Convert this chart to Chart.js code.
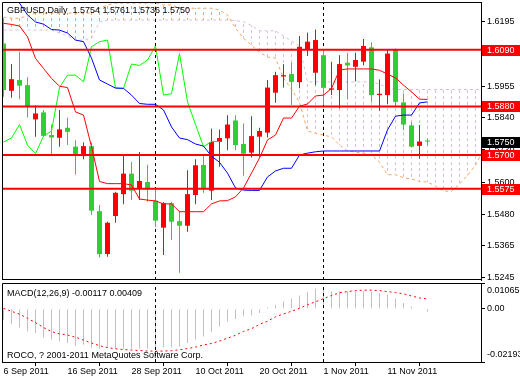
<!DOCTYPE html>
<html>
<head>
<meta charset="utf-8">
<title>GBPUSD Daily</title>
<script src="https://cdn.jsdelivr.net/npm/chart.js@4.4.1/dist/chart.umd.min.js"></script>
<style>
html,body{margin:0;padding:0;background:#ffffff;}
#wrap{position:relative;width:520px;height:380px;overflow:hidden;background:#ffffff;}
#wrap canvas{position:absolute;left:0;}
.lbl{position:absolute;white-space:pre;font-family:"Liberation Sans",Arial,sans-serif;font-size:9px;line-height:11px;color:#000;z-index:5;}
</style>
</head>
<body>
<div id="wrap">
  <canvas id="main" width="520" height="284" style="top:0px"></canvas>
  <canvas id="macd" width="520" height="100" style="top:280px"></canvas>
  <div class="lbl" style="left:7px;top:5px">GBPUSD,Daily  1.5754 1.5761 1.5736 1.5750</div>
  <div class="lbl" style="left:7px;top:288px">MACD(12,26,9) -0.00117 0.00409</div>
  <div class="lbl" style="left:7px;top:350px">ROCO, ? 2001-2011 MetaQuotes Software Corp.</div>
</div>
<script>
// ---- data (daily bars, 6 Sep 2011 .. 18 Nov 2011) ----
const open = [1.6113,1.5938,1.5978,1.5959,1.5832,1.5858,1.5774,1.5764,1.5801,1.5731,
              1.5696,1.5733,1.5492,1.5333,1.5474,1.5555,1.5631,1.5576,1.5600,1.5531,
              1.5431,1.5521,1.5455,1.5438,1.5552,1.5663,1.5568,1.5749,1.5762,1.5828,
              1.5741,1.5709,1.5768,1.5783,1.5931,1.5991,1.6000,1.5970,1.6089,1.6005,
              1.6070,1.5942,1.5941,1.6042,1.6027,1.6046,1.6099,1.5922,1.5922,1.6089,
              1.5895,1.5810,1.5734,1.5754];
const high = [1.6206,1.6037,1.6083,1.5988,1.5884,1.5867,1.5813,1.5867,1.5838,1.5755,
              1.5746,1.5746,1.5515,1.5453,1.5564,1.5702,1.5674,1.5711,1.5664,1.5578,
              1.5525,1.5527,1.5494,1.5644,1.5684,1.5701,1.5797,1.5795,1.5847,1.5847,
              1.5817,1.5844,1.5801,1.5978,1.6009,1.6036,1.6042,1.6141,1.6153,1.6165,
              1.6089,1.6046,1.6070,1.6079,1.6079,1.6130,1.6118,1.5980,1.6089,1.6095,
              1.5928,1.5823,1.5811,1.5761];
const low  = [1.5916,1.5912,1.5907,1.5839,1.5768,1.5768,1.5700,1.5731,1.5737,1.5628,
              1.5684,1.5478,1.5320,1.5323,1.5449,1.5518,1.5533,1.5533,1.5527,1.5434,
              1.5330,1.5385,1.5264,1.5416,1.5518,1.5560,1.5533,1.5657,1.5718,1.5718,
              1.5623,1.5691,1.5694,1.5765,1.5894,1.5950,1.5885,1.5947,1.6067,1.5959,
              1.5885,1.5922,1.5873,1.5906,1.5973,1.6033,1.5897,1.5864,1.5889,1.5879,
              1.5792,1.5728,1.5686,1.5736];
const close = [1.5941,1.5981,1.5957,1.5879,1.5854,1.5771,1.5765,1.5795,1.5786,1.5697,
               1.5733,1.5494,1.5333,1.5449,1.5560,1.5631,1.5568,1.5604,1.5573,1.5457,
               1.5521,1.5453,1.5438,1.5555,1.5662,1.5573,1.5748,1.5763,1.5813,1.5737,
               1.5705,1.5770,1.5789,1.5950,1.5996,1.5996,1.5971,1.6101,1.6120,1.6126,
               1.5949,1.5947,1.6037,1.6032,1.6052,1.6104,1.5922,1.5927,1.6076,1.5897,
               1.5813,1.5731,1.5750,1.5750];
const tenkan = [1.6188,1.6184,1.6178,1.6138,1.6058,1.6021,1.5984,1.5955,1.5950,1.5860,
                1.5848,1.5731,1.5602,1.5594,1.5594,1.5594,1.5589,1.5537,1.5533,1.5530,
                1.5519,1.5519,1.5490,1.5490,1.5490,1.5490,1.5519,1.5530,1.5531,1.5545,
                1.5578,1.5633,1.5689,1.5756,1.5774,1.5837,1.5837,1.5881,1.5889,1.5919,
                1.5922,1.5947,1.6015,1.6019,1.6019,1.6019,1.6019,1.6014,1.6000,1.5986,
                1.5959,1.5934,1.5907,1.5906];
const kijun = [1.6290,1.6280,1.6263,1.6219,1.6193,1.6185,1.6165,1.6163,1.6152,1.6126,
               1.6120,1.6059,1.5978,1.5963,1.5948,1.5947,1.5922,1.5891,1.5888,1.5888,
               1.5867,1.5804,1.5763,1.5757,1.5741,1.5733,1.5696,1.5673,1.5633,1.5578,
               1.5570,1.5569,1.5569,1.5619,1.5641,1.5651,1.5651,1.5700,1.5707,1.5712,
               1.5715,1.5715,1.5715,1.5715,1.5715,1.5715,1.5715,1.5715,1.5793,1.5844,
               1.5848,1.5848,1.5893,1.5897];
const chikou = [1.5748,1.5763,1.5813,1.5737,1.5705,1.5770,1.5789,1.5950,1.5996,1.5996,
                1.5971,1.6101,1.6120,1.6126,1.5949,1.5947,1.6037,1.6032,1.6052,1.6104,
                1.5922,1.5927,1.6076,1.5897,1.5813,1.5731,1.5750,1.5750];
const spanA = [1.6211,1.6207,1.6207,1.6215,1.6226,1.6226,1.6226,1.6226,1.6226,1.6226,
               1.6226,1.6226,1.6244,1.6256,1.6263,1.6263,1.6263,1.6263,1.6263,1.6263,
               1.6256,1.6256,1.6244,1.6244,1.6244,1.6244,1.6244,1.6237,1.6219,1.6170,
               1.6133,1.6107,1.6081,1.6063,1.6059,1.5985,1.5944,1.5896,1.5789,1.5781,
               1.5774,1.5767,1.5737,1.5715,1.5711,1.5707,1.5700,1.5674,1.5627,1.5627,
               1.5616,1.5611,1.5602,1.5600,1.5585,1.5567,1.5565,1.5593,1.5624,1.5663,
               1.5719];
const spanB = [1.6163,1.6163,1.6163,1.6163,1.6163,1.6163,1.6163,1.6152,1.6141,1.6126,
               1.6126,1.6133,1.6193,1.6200,1.6200,1.6200,1.6200,1.6200,1.6200,1.6200,
               1.6200,1.6200,1.6200,1.6200,1.6200,1.6200,1.6200,1.6200,1.6200,1.6198,
               1.6194,1.6180,1.6161,1.6160,1.6160,1.6141,1.6122,1.6104,1.5971,1.5971,
               1.5971,1.5971,1.5971,1.5971,1.5971,1.5971,1.5971,1.5963,1.5948,1.5943,
               1.5943,1.5943,1.5943,1.5943,1.5943,1.5943,1.5943,1.5943,1.5943,1.5943,
               1.5943];
const macdMain = [-0.0045,-0.0063,-0.0077,-0.0093,-0.0100,-0.0118,-0.0127,-0.0134,-0.0141,-0.0152,
                  -0.0148,-0.0162,-0.0165,-0.0162,-0.0165,-0.0165,-0.0165,-0.0165,-0.0165,-0.0162,
                  -0.0159,-0.0159,-0.0155,-0.0141,-0.0127,-0.0114,-0.0096,-0.0073,-0.0052,-0.0042,
                  -0.0031,-0.0027,-0.0017,0.0007,0.0017,0.0031,0.0042,0.0055,0.0069,0.0083,
                  0.0086,0.0072,0.0072,0.0072,0.0072,0.0072,0.0069,0.0065,0.0058,0.0042,
                  0.0024,0.0010,0.0002,-0.00117];
const macdSignal = [0.0002,-0.0010,-0.0022,-0.0039,-0.0057,-0.0077,-0.0094,-0.0103,-0.0108,-0.0117,
                    -0.0129,-0.0141,-0.0152,-0.0160,-0.0165,-0.0168,-0.0170,-0.0172,-0.0174,-0.0175,
                    -0.0174,-0.0173,-0.0169,-0.0164,-0.0158,-0.0149,-0.0143,-0.0133,-0.0121,-0.0109,
                    -0.0093,-0.0082,-0.0064,-0.0051,-0.0033,-0.0021,-0.0010,0.0002,0.0017,0.0029,
                    0.0042,0.0055,0.0066,0.0071,0.0075,0.0077,0.0077,0.0075,0.0071,0.0067,
                    0.0062,0.0053,0.0045,0.00409];
const dateLabels = ['6 Sep 2011','16 Sep 2011','28 Sep 2011','10 Oct 2011','20 Oct 2011','1 Nov 2011','11 Nov 2011'];
const dateBars = [0,8,16,24,32,40,48];
const priceTicks = [1.5245,1.5365,1.5480,1.5600,1.5720,1.5840,1.5955,1.6075,1.6195];
const levels = [1.6090,1.5880,1.5700,1.5575];
const lastClose = 1.5750;
const separators = [19,40];
const macdTicks = [-0.02193,0,0.01065];

// ---- view settings ----
const X_MIN = -0.1875, X_MAX = 59.6875;
const Y_MIN = 1.5237, Y_MAX = 1.6267;
const M_MIN = -0.02193, M_MAX = 0.01065;
const FONT = '"Liberation Sans", Arial, sans-serif';
const RED = '#ff0000', GREEN = '#32cd32';

Chart.defaults.font.family = FONT;
Chart.defaults.font.size = 9;
Chart.defaults.color = '#000';

const candleColor = open.map((o, i) => close[i] >= o ? RED : GREEN);
const idx = close.map((_, i) => i);
const cloudIdx = spanA.map((_, i) => i);

function hatchPattern(color) {
  const c = document.createElement('canvas');
  c.width = 1; c.height = 6;
  const g = c.getContext('2d');
  g.fillStyle = color; g.fillRect(0, 0, 1, 3);
  return g.createPattern(c, 'repeat');
}
const hatchUp = hatchPattern('#f4a460');
const hatchDn = hatchPattern('#d8bfd8');

const frame = {
  id: 'frame',
  afterDraw(chart, args, opts) {
    const a = chart.chartArea, ctx = chart.ctx;
    ctx.save();
    ctx.strokeStyle = '#000'; ctx.lineWidth = 1;
    ctx.beginPath();
    ctx.moveTo(a.right, a.top + 0.5);
    ctx.lineTo(a.left + 0.5, a.top + 0.5);
    ctx.lineTo(a.left + 0.5, a.bottom);
    if (opts.bottom) { ctx.moveTo(a.left, a.bottom - 0.5); ctx.lineTo(a.right, a.bottom - 0.5); }
    ctx.stroke();
    ctx.restore();
  }
};

const priceBoxes = {
  id: 'priceBoxes',
  afterDraw(chart) {
    const ctx = chart.ctx, ys = chart.scales.y, a = chart.chartArea;
    ctx.save();
    ctx.font = '9px ' + FONT;
    ctx.textBaseline = 'middle';
    ctx.textAlign = 'left';
    const box = (v, bg) => {
      const py = Math.round(ys.getPixelForValue(v));
      ctx.fillStyle = bg;
      ctx.fillRect(a.right + 1, py - 5, chart.width - a.right - 1, 11);
      ctx.fillStyle = '#fff';
      ctx.fillText(v.toFixed(4), a.right + 6, py + 0.5);
    };
    levels.forEach(v => box(v, RED));
    box(lastClose, '#000');
    ctx.restore();
  }
};

const lineDs = (label, pts, color, extra) => Object.assign({
  type: 'line', label, data: pts, borderColor: color, borderWidth: 1,
  pointRadius: 0, tension: 0, fill: false
}, extra || {});

const mainDatasets = [
  ...levels.map(v => lineDs('level', [{x: X_MIN, y: v}, {x: X_MAX, y: v}], RED, {borderWidth: 2, order: 0})),
  lineDs('Tenkan-sen', idx.map(i => ({x: i, y: tenkan[i]})), RED, {order: 1}),
  lineDs('Kijun-sen', idx.map(i => ({x: i, y: kijun[i]})), '#0000ff', {order: 2}),
  lineDs('Chikou Span', chikou.map((v, i) => ({x: i, y: v})), '#00ff00', {order: 3}),
  {type: 'bar', label: 'Body', data: idx.map(i => ({x: i, y: [open[i], close[i]]})),
   backgroundColor: candleColor, barThickness: 5, grouped: false, inflateAmount: 0, order: 4},
  {type: 'bar', label: 'Wick', data: idx.map(i => ({x: i, y: [low[i], high[i]]})),
   backgroundColor: candleColor, barThickness: 1, grouped: false, inflateAmount: 0, order: 5},
  ...separators.map(s => lineDs('sep', [{x: s, y: Y_MIN}, {x: s, y: Y_MAX}], '#000', {borderDash: [3, 3], order: 6})),
  lineDs('Senkou Span A', cloudIdx.map(i => ({x: i, y: spanA[i]})), '#f4a460', {borderDash: [3, 3], order: 7}),
  lineDs('Senkou Span B', cloudIdx.map(i => ({x: i, y: spanB[i]})), '#d8bfd8', {borderDash: [3, 3], order: 8}),
  {type: 'bar', label: 'Kumo', data: cloudIdx.map(i => ({x: i, y: [spanA[i], spanB[i]]})),
   backgroundColor: cloudIdx.map(i => spanA[i] >= spanB[i] ? hatchUp : hatchDn),
   barThickness: 1, grouped: false, inflateAmount: 0, order: 9}
];

new Chart(document.getElementById('main'), {
  type: 'bar',
  data: {datasets: mainDatasets},
  options: {
    responsive: false, animation: false, events: [],
    layout: {padding: {left: 2, top: 2, right: 0, bottom: 4}},
    plugins: {legend: {display: false}, tooltip: {enabled: false}, frame: {bottom: true}},
    scales: {
      x: {type: 'linear', min: X_MIN, max: X_MAX, offset: false, display: false},
      y: {type: 'linear', position: 'right', min: Y_MIN, max: Y_MAX, beginAtZero: false,
          afterBuildTicks: s => { s.ticks = priceTicks.map(v => ({value: v})); },
          afterFit: s => { s.width = 39; s.paddingTop = 0; s.paddingBottom = 0; },
          ticks: {callback: v => v.toFixed(4), padding: 2, autoSkip: false, color: '#000', font: {size: 9}},
          grid: {drawOnChartArea: false, drawTicks: true, tickLength: 4, color: '#000'},
          border: {display: true, color: '#000'}}
    }
  },
  plugins: [frame, priceBoxes]
});

const macdFmt = v => v === 0 ? '0.00' : v.toFixed(5);
new Chart(document.getElementById('macd'), {
  type: 'bar',
  data: {datasets: [
    lineDs('Signal', idx.map(i => ({x: i, y: macdSignal[i]})), RED, {borderDash: [2, 3], order: 0}),
    ...separators.map(s => lineDs('sep', [{x: s, y: M_MIN}, {x: s, y: M_MAX}], '#000', {borderDash: [3, 3], order: 1})),
    {type: 'bar', label: 'MACD', data: idx.map(i => ({x: i, y: macdMain[i]})),
     backgroundColor: '#c0c0c0', barThickness: 1, grouped: false, inflateAmount: 0, order: 2}
  ]},
  options: {
    responsive: false, animation: false, events: [],
    layout: {padding: {left: 2, top: 3, right: 0, bottom: 0}},
    plugins: {legend: {display: false}, tooltip: {enabled: false}, frame: {bottom: false}},
    scales: {
      x: {type: 'linear', position: 'bottom', min: X_MIN, max: X_MAX, offset: false,
          afterBuildTicks: s => { s.ticks = dateBars.map(v => ({value: v})); },
          afterFit: s => { s.height = 18; s.paddingLeft = 0; s.paddingRight = 0; },
          ticks: {callback: (v, i) => dateLabels[i], align: 'start', maxRotation: 0, minRotation: 0,
                  autoSkip: false, padding: 0, color: '#000', font: {size: 9}},
          grid: {drawOnChartArea: false, drawTicks: true, tickLength: 4, color: '#000'},
          border: {display: true, color: '#000'}},
      y: {type: 'linear', position: 'right', min: M_MIN, max: M_MAX, beginAtZero: false,
          afterBuildTicks: s => { s.ticks = macdTicks.map(v => ({value: v})); },
          afterFit: s => { s.width = 39; s.paddingTop = 0; s.paddingBottom = 0; },
          ticks: {callback: (v, i, t) => i === 0 ? [macdFmt(v), ''] : (i === t.length - 1 ? ['', macdFmt(v)] : macdFmt(v)),
                  padding: 2, autoSkip: false, color: '#000', font: {size: 9, lineHeight: '15px'}},
          grid: {drawOnChartArea: false, drawTicks: true, tickLength: 4, color: '#000'},
          border: {display: true, color: '#000'}}
    }
  },
  plugins: [frame]
});
</script>
</body>
</html>
